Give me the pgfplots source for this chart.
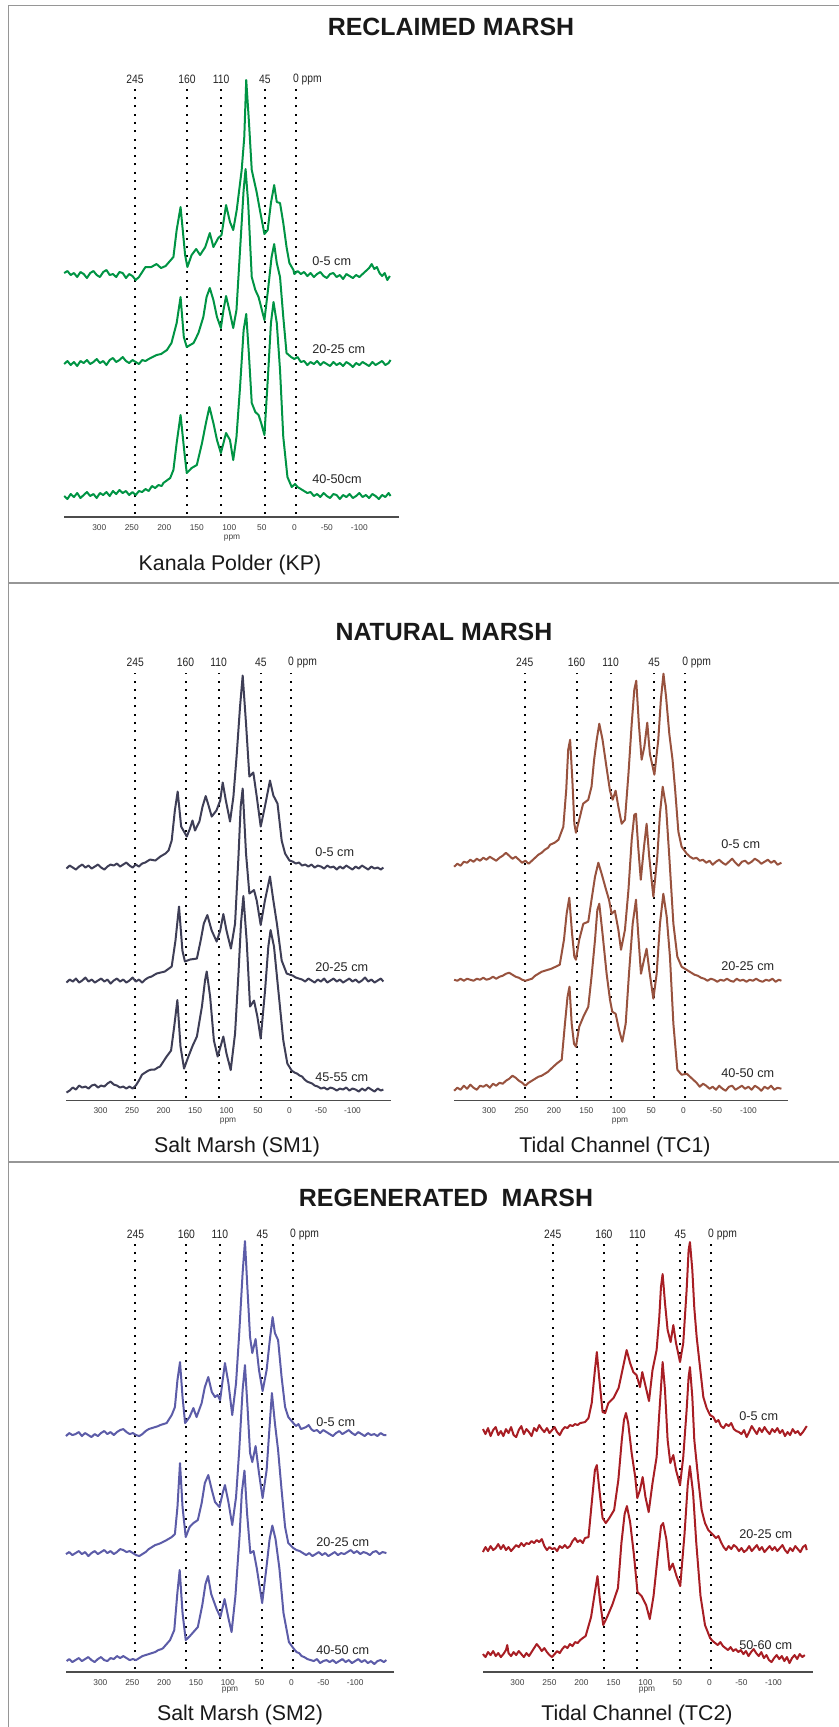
\documentclass[border=0pt]{standalone}
\usepackage{fontspec}
\setmainfont{Liberation Sans}
\newfontfamily\narrowfont[FakeStretch=0.85]{Liberation Sans}
\usepackage{pgfplots}
\pgfplotsset{compat=1.18}

\definecolor{kp}{RGB}{0,148,68}
\definecolor{smone}{RGB}{62,62,86}
\definecolor{tcone}{RGB}{152,82,62}
\definecolor{smtwo}{RGB}{92,92,168}
\definecolor{tctwo}{RGB}{168,30,36}
\definecolor{frame}{RGB}{150,150,150}

\pgfplotsset{
  nmr/.style={
    anchor=south west, scale only axis, height=225bp,
    xmin=-161, xmax=354, x dir=reverse, ymin=0, ymax=450,
    clip=false,
    axis x line=bottom, axis y line=none,
    x axis line style={-, draw=black!70, line width=0.6bp},
    xtick={300,250,200,150,100,50,0,-50,-100},
    xticklabels={300,250,200,150,100,50,0,-50,-100},
    major tick length=0pt,
    xticklabel style={font=\fontsize{4.2}{5}\selectfont, text=black!75, inner sep=0pt, yshift=-3.5bp},
    every axis plot/.append style={line width=1bp, line join=round},
  },
}
\tikzset{
  dots/.style={black, line width=1bp, dash pattern=on 1bp off 3.15bp},
  ppmlab/.style={font=\narrowfont\fontsize{6.1}{7}\selectfont, text=black!85, inner sep=0pt},
}

% dotted guide lines with their labels
\newcommand\guides{%
  \draw[dots] (axis cs:245,3) -- (axis cs:245,428);
  \draw[dots] (axis cs:165,3) -- (axis cs:165,428);
  \draw[dots] (axis cs:112.5,3) -- (axis cs:112.5,428);
  \draw[dots] (axis cs:45.5,3) -- (axis cs:45.5,428);
  \draw[dots] (axis cs:-2.5,3) -- (axis cs:-2.5,428);
  \node[ppmlab] at (axis cs:245,438) {245};
  \node[ppmlab] at (axis cs:165,438) {160};
  \node[ppmlab] at (axis cs:112.5,438) {110};
  \node[ppmlab] at (axis cs:45.5,438) {45};
  \node[ppmlab] at (axis cs:-2.5,438) {0\rlap{ ppm}};
}

\begin{document}
\begin{tikzpicture}
\begin{scope}[x=0.5bp, y=-0.5bp]
  \path[use as bounding box] (0,0) rectangle (839,1727);
  \fill[white] (0,0) rectangle (839,1727);
  \draw[frame, line width=0.6bp] (8.3,1727) -- (8.3,5.7) -- (839,5.7);
  \draw[frame, line width=0.6bp] (8.3,583) -- (839,583);
  \draw[frame, line width=0.6bp] (8.3,1162) -- (839,1162);

  \begin{scope}[every node/.style={font=\bfseries\fontsize{12.5}{14}\selectfont, text=black!90, anchor=base, inner sep=0pt}]
    \node at (451,35) {RECLAIMED MARSH};
    \node at (444,640) {NATURAL MARSH};
    \node at (446,1206) {REGENERATED\hspace{0.55em}MARSH};
  \end{scope}

  \begin{scope}[every node/.style={font=\fontsize{10.7}{13}\selectfont, text=black!90, anchor=base, inner sep=0pt}]
    \node at (230,570) {Kanala Polder (KP)};
    \node at (237,1152) {Salt Marsh (SM1)};
    \node at (615,1152) {Tidal Channel (TC1)};
    \node at (240,1720) {Salt Marsh (SM2)};
    \node at (637,1720) {Tidal Channel (TC2)};
  \end{scope}

  \begin{scope}[every node/.style={font=\fontsize{4.2}{5}\selectfont, text=black!75, inner sep=0pt}]
    \node at (232,538) {ppm};
    \node at (228,1121) {ppm};
    \node at (620,1121) {ppm};
    \node at (230,1690) {ppm};
    \node at (647,1690) {ppm};
  \end{scope}

  \begin{scope}[every node/.style={font=\fontsize{6.35}{8}\selectfont, text=black!85, anchor=west, inner sep=0pt}]
    \node at (312,261) {0-5 cm};
    \node at (312,349) {20-25 cm};
    \node at (312,479) {40-50cm};
    \node at (315,852) {0-5 cm};
    \node at (315,967) {20-25 cm};
    \node at (315,1077) {45-55 cm};
    \node at (721,844) {0-5 cm};
    \node at (721,966) {20-25 cm};
    \node at (721,1073) {40-50 cm};
    \node at (316,1422) {0-5 cm};
    \node at (316,1542) {20-25 cm};
    \node at (316,1650) {40-50 cm};
    \node at (739,1416) {0-5 cm};
    \node at (739,1534) {20-25 cm};
    \node at (739,1645) {50-60 cm};
  \end{scope}
\end{scope}

% ---------------- Kanala Polder (KP)
\begin{axis}[nmr, at={(32.1bp,-258.5bp)}, width=167.4bp]
\guides
\addplot[kp] coordinates {
(354,244) (349,246) (344,242) (339,244) (334,240) (329,245) (324,243) (319,239) (314,244) (309,246)
(304,242) (299,240) (294,245) (289,247) (284,242) (279,243) (274,240) (269,245) (264,244) (259,239)
(254,243) (249,241) (244,237) (239,240) (234,245) (229,250) (220,250) (212,253) (205,249) (198,251)
(194,254) (186,260) (181,287) (175,310) (168,262) (164.5,250) (158,262) (151,268) (145,262) (137,270)
(130,284) (124.5,270) (117,279) (112,282) (105,312) (99,295) (94,287) (88.6,307) (81,347) (77,380)
(74,437) (70,397) (65.5,347) (58,325) (53,307) (46,283) (41,287) (36,314) (31,332) (27,315)
(22,314) (17,294) (12,270) (7.6,254) (1.4,247) (0,243) (-5,246) (-10,243) (-15,245) (-20,241)
(-25,244) (-30,240) (-35,243) (-40,245) (-45,241) (-50,239) (-55,243) (-60,244) (-65,240) (-70,242)
(-75,238) (-80,243) (-85,241) (-90,239) (-95,242) (-100,240) (-105,243) (-110,246) (-115,249) (-119,253)
(-123,248) (-127,250) (-131,244) (-135,241) (-139,244) (-143,237) (-147,241)
};
\addplot[kp] coordinates {
(354,153) (349,156) (344,152) (339,155) (334,151) (329,156) (324,154) (319,157) (314,153) (309,155)
(304,158) (299,154) (294,156) (289,152) (284,157) (279,159) (274,155) (269,157) (264,160) (259,156)
(254,154) (249,157) (244,155) (239,153) (234,157) (229,156) (224,158) (212,162) (205,163) (196,167)
(189,174) (181,194) (175,220) (170,180) (165.5,170) (155,174) (147.5,184) (140,200) (135,220) (130,229)
(124.5,217) (119,200) (113,189) (109,207) (105,221) (100,207) (94,189) (89,207) (83.5,267) (78,327)
(75,348) (71,314) (65.5,240) (60,227) (55,220) (46,197) (40,230) (35,260) (31,273) (27,254)
(22,240) (17,200) (12,164) (5,160) (0,158) (-5,160) (-10,155) (-15,156) (-20,152) (-25,155)
(-30,153) (-35,156) (-40,152) (-45,155) (-50,153) (-55,151) (-60,155) (-65,152) (-70,154) (-75,151)
(-80,155) (-85,153) (-90,150) (-95,154) (-100,152) (-105,155) (-110,153) (-115,151) (-120,155) (-125,152)
(-130,154) (-135,156) (-140,152) (-145,154) (-148,157)
};
\addplot[kp] coordinates {
(354,21) (349,18) (344,23) (339,20) (334,24) (329,19) (324,22) (319,25) (314,21) (309,23)
(304,19) (299,24) (294,22) (289,25) (284,21) (279,26) (274,23) (269,27) (264,24) (259,26)
(254,22) (249,25) (244,22) (239,26) (234,25) (229,28) (224,26) (219,31) (214,29) (209,32)
(204,31) (201.5,34) (191,39) (186,47) (181,74) (175,102) (169,64) (165.5,44) (158,49) (150,52)
(142,74) (136,94) (130.6,110) (124.5,94) (119,77) (113,64) (105,84) (99,77) (94,57) (89,80)
(83.5,130) (78,187) (74,203) (70,164) (65.5,114) (60,105) (55,102) (51,94) (46,82) (40,147)
(36,194) (32,215) (27,194) (22,147) (17,80) (10.6,40) (4,30) (-1,33) (-5,30) (-10,28)
(-15,26) (-20,24) (-25,25) (-30,21) (-35,23) (-40,20) (-45,24) (-50,21) (-55,19) (-60,23)
(-65,22) (-70,18) (-75,22) (-80,20) (-85,23) (-90,19) (-95,21) (-100,24) (-105,20) (-110,22)
(-115,19) (-120,23) (-125,21) (-130,18) (-135,22) (-140,20) (-145,24) (-148,21)
};
\end{axis}

% ---------------- Salt Marsh (SM1)
\begin{axis}[nmr, at={(33.25bp,-550.25bp)}, width=162.2bp]
\guides
\addplot[smone] coordinates {
(354,232) (349,235) (344,233) (339,231) (334,234) (329,236) (324,233) (319,235) (314,232) (309,234)
(304,236) (299,233) (294,231) (289,234) (284,236) (279,235) (274,237) (269,234) (264,236) (259,238)
(254,235) (249,233) (244,236) (239,234) (234,237) (229,238) (224,240) (221,241) (213,240) (205,244)
(197,247) (192,250) (187,260) (182,290) (177.5,309) (172,274) (163,264) (158,272) (154,280) (150,270)
(143,279) (138,294) (133,304.5) (128,294) (123.5,284) (116,290) (110,300) (106,318) (101,300) (94.4,279)
(89,304) (84,344) (78.5,394) (74.3,425) (69,377) (63.7,324) (57.4,328) (52,304) (45.7,274) (39,294)
(31,320) (25.6,305) (19,297) (12.4,260) (7,247) (0,240) (-5,239) (-10,237) (-15,238) (-20,235)
(-25,236) (-30,234) (-35,236) (-40,233) (-45,235) (-50,234) (-55,232) (-60,235) (-65,233) (-70,234)
(-75,231) (-80,234) (-85,232) (-90,235) (-95,233) (-100,231) (-105,234) (-110,232) (-115,235) (-120,233)
(-125,231) (-130,234) (-135,232) (-140,233) (-145,231) (-149,233)
};
\addplot[smone] coordinates {
(354,118) (349,121) (344,119) (339,122) (334,118) (329,120) (324,123) (319,119) (314,121) (309,118)
(304,120) (299,122) (294,119) (289,121) (284,117) (279,120) (274,122) (269,119) (264,121) (259,118)
(254,120) (249,123) (244,119) (239,121) (234,118) (229,121) (224,123) (219,124) (211,127) (198,129)
(187,134) (181,160) (175.4,194) (170,150) (166,139) (158,141) (147,142) (141,160) (136,177) (130.4,185.5)
(123.5,170) (115.6,159) (110,170) (105,186.5) (100,170) (93,152) (86.4,177) (81,244) (77.5,294) (74.3,312)
(69,247) (63.7,207) (56.3,210.5) (52,200) (45.7,175.5) (39,200) (31,224) (25.6,200) (20,177) (12.4,140)
(4.4,127) (0,126) (-5,125) (-10,123) (-15,122) (-20,121) (-25,119) (-30,122) (-35,120) (-40,118)
(-45,121) (-50,119) (-55,122) (-60,118) (-65,120) (-70,122) (-75,119) (-80,121) (-85,118) (-90,120)
(-95,122) (-100,119) (-105,121) (-110,118) (-115,120) (-120,123) (-125,119) (-130,121) (-135,118) (-140,120)
(-145,122) (-149,119)
};
\addplot[smone] coordinates {
(354,8) (349,10) (344,13) (339,11) (334,15) (329,13) (324,14) (319,12) (314,15) (309,16)
(304,13) (299,15) (294,14) (289,17) (284,19) (279,16) (274,15) (269,13) (264,14) (259,12)
(254,14) (249,12) (244,15) (239,20) (234,26) (229,28) (224,30) (219,31) (214,31) (209,33)
(205.5,34) (195,44) (188,50) (183,74) (178,100.5) (173,54) (167.4,32) (160.5,44) (153.6,55) (147,64)
(139,94) (134,120.5) (131.4,129) (126,104) (120,60) (114,44) (109,55) (105,64) (100,47) (93.3,30.5)
(86.4,67) (81,127) (77,177) (73.2,204.5) (68,160) (62.6,94) (56.3,100) (51,84) (45.7,62) (38.8,110)
(33.6,154) (30,170.5) (24.6,154) (17.7,110) (9.8,60) (3.4,37) (-3.4,30) (-8,28) (-12,27) (-16,25)
(-20,24) (-24,21) (-28,19) (-32,18) (-36,17) (-40,15) (-45,14) (-50,12) (-55,13) (-60,11)
(-65,13) (-70,12) (-75,10) (-80,12) (-85,11) (-90,13) (-95,10) (-100,12) (-105,11) (-110,9)
(-115,12) (-120,10) (-125,13) (-130,11) (-135,9) (-140,12) (-145,10) (-149,11)
};
\end{axis}

% ---------------- Tidal Channel (TC1)
\begin{axis}[nmr, at={(227.05bp,-550.35bp)}, width=166.9bp]
\guides
\addplot[tcone] coordinates {
(354,234) (349,237) (344,235) (339,239) (334,238) (329,241) (324,239) (319,242) (314,240) (309,243)
(304,241) (299,244) (294,242) (289,240) (284,243) (279,245) (274,248) (269,245) (264,242) (259,244)
(254,241) (249,238) (244,240) (239,237) (234,240) (229,243) (224,246) (219,248) (214,251) (209,253)
(206,256) (199,258) (193,261) (185.5,274) (181,311) (178,351) (175,361) (171.6,321) (168.5,277) (166,268)
(161,281) (155,297) (147,301) (142,314) (138,341) (134,361) (130,377) (125,361) (119,334) (113.5,310)
(109.4,301) (104.8,310) (100.6,294) (95.5,277) (90.4,281) (85,327) (80,377) (76,411) (73,420) (69,377)
(64.7,341) (60.5,354) (56,378) (52,347) (45,326) (39,361) (35,401) (31,427) (27,404) (22,367)
(17,341) (13,311) (8,269) (3,254) (-5,247) (-10,244) (-15,242) (-20,243) (-25,240) (-30,241)
(-35,238) (-40,240) (-45,236) (-50,239) (-55,241) (-60,238) (-65,236) (-70,239) (-75,242) (-80,238)
(-85,235) (-90,239) (-95,240) (-100,237) (-105,239) (-110,242) (-115,240) (-120,237) (-125,239) (-130,241)
(-135,238) (-140,240) (-145,236) (-151,238)
};
\addplot[tcone] coordinates {
(354,121) (349,120) (344,122) (339,120) (334,122) (329,121) (324,120) (319,122) (314,121) (309,123)
(304,121) (299,122) (294,124) (289,122) (284,124) (279,125) (274,127) (269,128) (264,126) (259,124)
(254,123) (249,121) (244,120) (239,121) (234,122) (229,125) (224,127) (219,129) (214,130) (209,131)
(204,132) (191,136) (184.5,161) (180.4,187) (176.3,203) (172,167) (168.5,144) (166,141) (161,161) (154.6,177)
(147,179) (142,201) (136.6,224) (131.5,238) (126.4,227) (120,212) (115,201) (111,187) (106,190) (100.6,171)
(96.5,151) (90.4,171) (85,211) (80,261) (76,286) (73.4,287) (70,254) (66,221) (61,254) (57,277)
(53,244) (46.6,204) (40.5,244) (36.4,287) (32.2,314) (27,294) (22,244) (15.7,177) (9.6,144) (3,134)
(-2,132) (-7,130) (-12,128) (-17,126) (-22,125) (-27,123) (-32,122) (-37,120) (-42,122) (-47,121)
(-52,119) (-57,121) (-62,120) (-67,122) (-72,120) (-77,119) (-82,122) (-87,120) (-92,121) (-97,119)
(-102,121) (-107,120) (-112,122) (-117,120) (-122,119) (-127,121) (-132,120) (-137,122) (-142,119) (-147,121)
(-151,120)
};
\addplot[tcone] coordinates {
(354,10) (349,13) (344,11) (339,15) (334,12) (329,16) (324,13) (319,11) (314,15) (309,14)
(304,16) (299,13) (294,17) (289,15) (284,18) (279,17) (274,20) (269,22) (264,25) (259,23)
(254,20) (249,18) (244,15) (239,18) (234,20) (229,22) (224,24) (219,25) (214,27) (209,29)
(206,31) (196,37) (188,41) (183,77) (179,104) (176,114) (172.6,77) (169,57) (166,54) (161,74)
(154.6,84) (147,94) (142,124) (136.6,161) (133,191) (130,197) (125,167) (118.7,127) (113.5,101) (110,89)
(104.8,87) (99.6,71) (94.5,59) (89.3,77) (84.2,127) (78.5,177) (73.4,201) (70,167) (65.7,127) (61,141)
(57,152) (53,131) (46.6,102) (41.5,127) (36.4,177) (31.2,207) (26,184) (21,144) (15.7,77) (9.6,31)
(3,26) (-5,27) (-10,24) (-15,21) (-20,18) (-25,14) (-30,17) (-35,15) (-40,12) (-45,14)
(-50,11) (-55,15) (-60,12) (-65,10) (-70,14) (-75,15) (-80,11) (-85,13) (-90,15) (-95,12)
(-100,14) (-105,11) (-110,15) (-115,13) (-120,10) (-125,14) (-130,12) (-135,15) (-140,11) (-145,13)
(-151,12)
};
\end{axis}

% ---------------- Salt Marsh (SM2)
\begin{axis}[nmr, at={(33bp,-836bp)}, width=164bp]
\guides
\addplot[smtwo] coordinates {
(354,236) (349,239) (344,237) (339,238) (334,240) (329,236) (324,239) (319,237) (314,235) (309,238)
(304,236) (299,239) (294,241) (289,238) (284,240) (279,237) (274,240) (269,242) (264,243) (259,240)
(254,238) (249,239) (244,237) (239,236) (234,238) (229,241) (224,243) (219,244) (214,245) (209,246)
(206,247) (196,249) (188,257) (183,265) (179,292) (175,310) (171,275) (167,249) (160,255) (154,264)
(149,255) (141,269) (136,285) (130.6,295) (125,280) (120,275) (116,277) (112,272) (108,292) (104.4,309)
(99,289) (93,257) (87,289) (82,339) (76.7,399) (73,431) (69,382) (65,335) (61.5,319) (56.3,333)
(51,302) (45.3,281) (39,302) (34,332) (29.6,355) (26,339) (21,332) (15.5,295) (10,265) (5,255)
(-3,249) (-7,246) (-11,248) (-15,243) (-19,244) (-23,245) (-27,247) (-31,243) (-35,241) (-40,242)
(-45,239) (-50,242) (-55,240) (-60,238) (-65,236) (-70,239) (-75,241) (-80,238) (-85,240) (-90,242)
(-95,239) (-100,237) (-105,240) (-110,238) (-115,236) (-120,239) (-125,237) (-130,238) (-135,236) (-140,239)
(-145,237) (-149,237)
};
\addplot[smtwo] coordinates {
(354,118) (349,120) (344,117) (339,119) (334,121) (329,118) (324,120) (319,116) (314,119) (309,121)
(304,118) (299,120) (294,122) (289,119) (284,121) (279,118) (274,120) (269,123) (264,122) (259,120)
(254,121) (249,119) (244,117) (239,116) (234,118) (229,120) (224,123) (219,125) (214,127) (209,128)
(205,129) (196,132) (188,135) (183,138) (179,165) (175,209) (171,165) (166,135) (160,145) (154,149)
(147,152) (141,169) (136,189) (130.6,197) (125,182) (120,170) (113,165) (108,179) (104.4,187) (99,170)
(93,147) (87,175) (82,222) (76.7,282) (73,307) (69,265) (65,219) (61.5,210) (56.3,226) (51,199)
(45.3,174) (39,202) (34,249) (30.7,279) (26,249) (21,222) (15.5,182) (10,145) (5,129) (-3,124)
(-8,122) (-13,121) (-18,119) (-23,117) (-28,119) (-33,116) (-38,118) (-43,120) (-48,117) (-53,119)
(-58,116) (-63,118) (-68,120) (-73,117) (-78,119) (-83,118) (-88,120) (-93,122) (-98,119) (-103,121)
(-108,118) (-113,120) (-118,119) (-123,117) (-128,120) (-133,121) (-138,118) (-143,120) (-149,119)
};
\addplot[smtwo] coordinates {
(353,11) (349,13) (344,10) (339,12) (334,14) (329,11) (324,13) (319,15) (314,12) (309,10)
(304,13) (299,15) (294,12) (289,11) (284,14) (279,13) (274,16) (269,14) (264,16) (259,14)
(254,12) (249,13) (244,12) (239,14) (234,16) (229,17) (224,18) (219,19) (214,20) (209,22)
(204,23) (201.5,24) (190.6,32) (184,42) (179,80) (175.5,102) (171,59) (166,32) (159.5,36) (147,45)
(140,67) (135,88) (131,96) (126,78) (117.5,63) (111.6,55) (105,73) (99,54) (94,40) (88,76)
(81.4,137) (78,179) (73.8,201.5) (69.6,158) (64.6,119) (59.5,121) (54.5,104) (46,69) (39.4,104) (34.3,133)
(30,146.5) (25,133) (19,104) (12.5,59) (4,30) (-4,23) (-8,20) (-12,19) (-16,16) (-20,15)
(-25,13) (-30,12) (-35,11) (-40,13) (-45,9) (-50,11) (-55,12) (-60,10) (-65,12) (-70,9)
(-75,11) (-80,13) (-85,10) (-90,12) (-95,9) (-100,11) (-105,13) (-110,10) (-115,12) (-120,9)
(-125,11) (-130,8) (-135,11) (-140,12) (-145,10) (-149,12)
};
\end{axis}

% ---------------- Tidal Channel (TC2)
\begin{axis}[nmr, at={(241.45bp,-836bp)}, width=164.8bp]
\guides
\addplot[tctwo] coordinates {
(354,243) (350,238) (346,244) (342,236) (338,242) (334,245) (330,237) (326,241) (322,236) (318,243)
(314,239) (310,245) (306,237) (302,235) (298,242) (294,246) (290,238) (286,243) (282,240) (278,236)
(274,244) (270,241) (266,247) (262,243) (258,240) (254,244) (250,239) (246,242) (242,245) (238,240)
(234,237) (230,242) (226,245) (222,244) (218,247) (214,246) (210,248) (206,247) (202,249) (194.5,250)
(189,254) (184,269) (179,302) (176,320) (172,292) (167,260) (163,259) (158,269) (150,274) (142,284)
(136,302) (129.4,322) (124,309) (119,300) (114,297) (108.6,285) (105,300) (101,289) (94.5,271) (89,302)
(82.6,322) (78.4,355) (75.8,385) (73.2,398) (69.5,369) (65.4,342) (60.7,330) (56.5,347) (52.3,329) (46,310)
(41,329) (35.7,382) (32.6,422) (30.5,430) (26.8,402) (23.7,364) (20,335) (14.8,305) (9.6,275) (4.4,264)
(-1,257) (-6,255) (-10,250) (-14,252) (-18,246) (-22,244) (-26,248) (-30,246) (-34,249) (-38,243)
(-42,241) (-46,240) (-50,238) (-54,242) (-58,235) (-62,240) (-66,246) (-70,242) (-74,238) (-78,244)
(-82,240) (-86,245) (-90,241) (-94,238) (-98,243) (-102,240) (-106,244) (-110,239) (-114,242) (-118,236)
(-122,240) (-126,237) (-130,243) (-134,239) (-138,241) (-142,237) (-146,240) (-150,244) (-152,246)
};
\addplot[tctwo] coordinates {
(354,120) (350,125) (346,121) (342,126) (338,122) (334,124) (330,128) (326,123) (322,127) (318,122)
(314,125) (310,121) (306,124) (302,127) (298,125) (294,129) (290,126) (286,129) (282,128) (278,131)
(274,129) (270,132) (266,130) (262,133) (258,126) (254,122) (250,125) (246,123) (242,124) (238,121)
(234,126) (230,124) (226,127) (222,124) (218,126) (214,131) (210,134) (206,130) (202,132) (198,129)
(194.5,134) (189,135) (184,169) (179,202) (176,207) (172,182) (167,154) (162,149) (156.5,154) (149,162)
(142.4,192) (137,232) (133.6,252) (130.5,259) (127,249) (121.6,219) (116,195) (112.8,174) (108.6,182) (104.4,195)
(100,175) (95,160) (89,189) (82.6,215) (78.4,259) (74.7,295) (73.2,310) (69.5,282) (65.4,232) (61.2,209)
(56.5,217) (52.3,202) (46,187) (41,215) (35.7,262) (32.6,295) (30.5,305) (26.8,275) (23.7,232) (17.4,192)
(12.2,162) (7,149) (1.8,142) (-6,137) (-10,134) (-14,136) (-18,130) (-22,125) (-26,122) (-30,126)
(-34,123) (-38,127) (-42,125) (-46,121) (-50,124) (-54,120) (-58,122) (-62,126) (-66,121) (-70,124)
(-74,127) (-78,122) (-82,125) (-86,120) (-90,123) (-94,126) (-98,122) (-102,125) (-106,121) (-110,124)
(-114,127) (-118,122) (-122,119) (-126,124) (-130,121) (-134,126) (-138,123) (-142,120) (-146,125) (-150,127)
(-152,122)
};
\addplot[tctwo] coordinates {
(354,18) (350,15) (346,20) (342,17) (338,21) (334,16) (330,19) (326,15) (322,18) (318,22)
(316,27) (314,19) (310,16) (306,20) (302,17) (298,21) (294,18) (290,15) (286,19) (282,16)
(278,20) (274,24) (270,28) (266,25) (262,21) (258,24) (254,20) (250,17) (246,15) (242,18)
(238,21) (234,19) (230,23) (226,26) (222,24) (218,28) (214,26) (210,30) (206,29) (202,32)
(198,34) (193.5,36) (185,55) (179,80) (175,96) (171,71) (166,47) (160,55) (152,67) (143,84)
(137.6,129) (132.6,158) (129,166) (124,150) (118,117) (112.5,80) (106,76) (99,67) (93.3,53) (87.4,76)
(80.7,117) (75.7,146) (72.4,149) (67.4,133) (62.4,102) (57.4,108.5) (51.5,96) (45.7,86) (39,138) (34,187)
(30.6,206) (25.6,179) (20.6,129) (14,76) (7,47) (-1,34) (-5,31) (-9,29) (-13,27) (-17,30)
(-21,26) (-25,24) (-29,22) (-33,25) (-37,21) (-41,23) (-45,20) (-49,22) (-53,18) (-57,21)
(-61,16) (-65,20) (-69,23) (-73,19) (-77,16) (-81,20) (-85,14) (-89,17) (-93,12) (-97,10)
(-101,14) (-105,17) (-109,13) (-113,16) (-117,11) (-121,15) (-125,9) (-129,14) (-133,17) (-137,13)
(-141,18) (-145,15) (-149,17)
};
\end{axis}
\end{tikzpicture}
\end{document}
